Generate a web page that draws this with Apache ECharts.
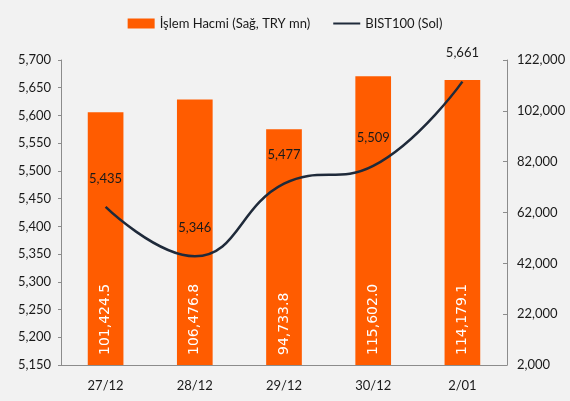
<!DOCTYPE html>
<html>
<head>
<meta charset="utf-8">
<script src="https://cdn.jsdelivr.net/npm/echarts@6/dist/echarts.min.js"></script>
<style>
  html, body { margin: 0; padding: 0; background: #f2f2f2; }
  #chart { width: 570px; height: 401px; }
</style>
</head>
<body>
<div id="chart"></div>
<script>
const categories = ['27/12', '28/12', '29/12', '30/12', '2/01'];
const volume = [101424.5, 106476.8, 94733.8, 115602.0, 114179.1];
const bist100 = [5435, 5346, 5477, 5509, 5661];
const rightTicks = [2000, 22000, 42000, 62000, 82000, 102000, 122000];

const fmt = (v, d) => v.toLocaleString('en-US', { minimumFractionDigits: d, maximumFractionDigits: d });
const font = 'Lato';

const chart = echarts.init(document.getElementById('chart'), null, { renderer: 'canvas' });

const option = {
  backgroundColor: '#f2f2f2',
  animation: false,
  textStyle: { fontFamily: font },
  legend: {
    top: 12,
    left: 'center',
    itemGap: 22,
    itemWidth: 27,
    itemHeight: 10,
    textStyle: { fontFamily: font, fontSize: 13, color: '#1a1a1a' },
    data: [
      { name: 'İşlem Hacmi (Sağ, TRY mn)', icon: 'rect' },
      { name: 'BIST100 (Sol)', itemStyle: { opacity: 0 } }
    ]
  },
  grid: { left: 61, right: 63, top: 60, bottom: 36 },
  xAxis: {
    type: 'category',
    data: categories,
    axisLine: { lineStyle: { color: '#8c8c8c', width: 1 } },
    axisTick: { inside: true, length: 6, lineStyle: { color: '#8c8c8c' } },
    axisLabel: { color: '#1a1a1a', fontSize: 13, margin: 14, fontFamily: font }
  },
  yAxis: [
    {
      type: 'value',
      min: 5150,
      max: 5700,
      interval: 50,
      position: 'left',
      splitLine: { show: false },
      axisLine: { show: true, lineStyle: { color: '#8c8c8c' } },
      axisTick: { show: true, length: 3, lineStyle: { color: '#8c8c8c' } },
      axisLabel: { color: '#1a1a1a', fontSize: 13, margin: 10, fontFamily: font,
        formatter: v => fmt(v, 0) }
    },
    {
      type: 'value',
      min: 2000,
      max: 122000,
      position: 'right',
      splitLine: { show: false },
      axisLine: { show: true, lineStyle: { color: '#8c8c8c' } },
      axisTick: { show: true, inside: true, length: 4, customValues: rightTicks, lineStyle: { color: '#8c8c8c' } },
      axisLabel: { color: '#1a1a1a', fontSize: 13, margin: 10, fontFamily: font,
        customValues: rightTicks, formatter: v => fmt(v, 0) }
    }
  ],
  series: [
    {
      name: 'İşlem Hacmi (Sağ, TRY mn)',
      type: 'bar',
      yAxisIndex: 1,
      data: volume,
      barWidth: '40%',
      itemStyle: { color: '#ff5c00' },
      label: {
        show: true,
        position: 'insideBottom',
        rotate: 90,
        align: 'left',
        verticalAlign: 'middle',
        distance: 10,
        color: '#ffffff',
        fontFamily: 'DejaVu Sans',
        fontSize: 14,
        formatter: p => fmt(p.value, 1)
      }
    },
    {
      name: 'BIST100 (Sol)',
      type: 'line',
      yAxisIndex: 0,
      data: bist100,
      smooth: 0.45,
      showSymbol: true,
      symbolSize: 0,
      lineStyle: { color: '#1f2a3a', width: 2.5 },
      itemStyle: { color: '#1f2a3a' },
      label: {
        show: true,
        position: 'top',
        distance: 22,
        color: '#1a1a1a',
        fontSize: 13,
        fontFamily: font,
        formatter: p => fmt(p.value, 0)
      }
    }
  ]
};

chart.setOption(option);
window.addEventListener('resize', chart.resize);
</script>
</body>
</html>
